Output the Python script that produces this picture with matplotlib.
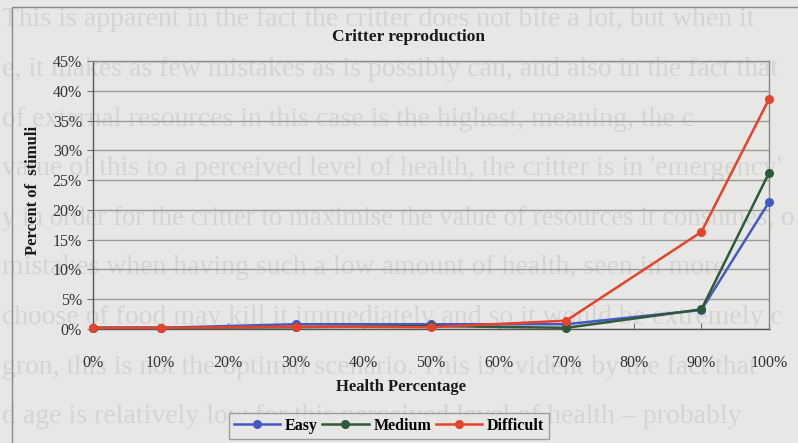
import matplotlib
matplotlib.use("Agg")
import matplotlib.pyplot as plt
from matplotlib.lines import Line2D

health = [0, 10, 30, 50, 70, 90, 100]
easy = [0.2, 0.2, 0.8, 0.8, 0.8, 3.2, 21.3]
medium = [0.2, 0.2, 0.3, 0.5, 0.2, 3.3, 26.2]
difficult = [0.2, 0.2, 0.4, 0.3, 1.4, 16.3, 38.6]
xticks = list(range(0, 101, 10))
yticks = list(range(0, 46, 5))

bg_lines = [
    "This is apparent in the fact the critter does not bite a lot, but when it",
    "e, it makes as few mistakes as is possibly can, and also in the fact that",
    "of external resources in this case is the highest, meaning, the c",
    "value of this to a perceived level of health, the critter is in 'emergency'",
    "y in order for the critter to maximise the value of resources it consumes, o",
    "mistakes when having such a low amount of health, seen in more",
    "choose of food may kill it immediately and so it would be extremely c",
    "gron, this is not the optimal scenario. This is evident by the fact that",
    "d age is relatively low for this perceived level of health \u2013 probably",
]

BG = "#e7e7e5"
W, H = 798, 443
fig = plt.figure(figsize=(7.98, 4.43), dpi=100, facecolor=BG)
serif = ["Liberation Serif", "DejaVu Serif"]

# faint background text of the scanned page
renderer = fig.canvas.get_renderer()
for i, t in enumerate(bg_lines):
    y = 20 + 49.6 * i
    txt = fig.text(2 / W, 1 - y / H, t, fontsize=20, family=serif, color="#d4d4d2",
                   va="center", ha="left", zorder=0)
    w = txt.get_window_extent(renderer).width
    if w > W - 6:
        txt.set_fontsize(20 * (W - 6) / w)

# chart area border
fig.add_artist(plt.Rectangle((12 / W, -0.05), 1.0, 1 - 7 / H + 0.05,
                             transform=fig.transFigure, fill=False,
                             edgecolor="#8a8a8a", linewidth=1.0, zorder=1))

ax = fig.add_axes([93 / W, 1 - 329 / H, (769 - 93) / W, (329 - 61) / H])
ax.set_facecolor("none")
ax.set_zorder(3)

colors = {"Easy": "#4559c4", "Medium": "#2f5a3a", "Difficult": "#e5432b"}
for name, vals in [("Easy", easy), ("Medium", medium), ("Difficult", difficult)]:
    ax.plot(health, vals, color=colors[name], marker="o", markersize=5.5,
            linewidth=1.8, label=name, zorder=3, clip_on=False)

ax.set_xlim(0, 100)
ax.set_ylim(0, 45)
ax.set_xticks(xticks)
ax.set_xticklabels([f"{v}%" for v in xticks])
ax.set_yticks(yticks)
ax.set_yticklabels([f"{v}%" for v in yticks])
ax.yaxis.grid(True, color="#9a9a9a", linewidth=1.0)
ax.set_axisbelow(True)
for s in ax.spines.values():
    s.set_color("#8a8a8a")
    s.set_linewidth(1.0)
ax.spines["left"].set_color("#555555")
ax.spines["bottom"].set_color("#555555")
ax.tick_params(axis="x", direction="in", length=4, color="#777777", pad=19,
               labelsize=11.5, labelcolor="#333333")
ax.tick_params(axis="y", direction="out", length=4, color="#777777", pad=4,
               labelsize=11.5, labelcolor="#333333")
for lab in ax.get_xticklabels() + ax.get_yticklabels():
    lab.set_family(serif)

fig.text(408 / W, 1 - 37 / H, "Critter reproduction", fontsize=12.5,
         fontweight="bold", family=serif, ha="center", va="center", color="#1a1a1a",
         zorder=4)
fig.text(401 / W, 1 - 387 / H, "Health Percentage", fontsize=12,
         fontweight="bold", family=serif, ha="center", va="center", color="#1a1a1a",
         zorder=4)
fig.text(33 / W, 1 - 190 / H, "Percent of  stimuli", fontsize=12,
         fontweight="bold", family=serif, ha="center", va="center", rotation=90,
         color="#1a1a1a", zorder=4)

handles = [Line2D([], [], color=colors[n], marker="o", markersize=5.5, linewidth=1.8)
           for n in ["Easy", "Medium", "Difficult"]]
leg = fig.legend(handles, ["Easy", "Medium", "Difficult"], ncol=3,
                 loc="center", bbox_to_anchor=(389 / W, 1 - 426 / H),
                 prop={"family": serif, "weight": "bold", "size": 11.5},
                 frameon=True, fancybox=False, handlelength=2.9,
                 handletextpad=0.3, columnspacing=0.3, borderpad=0.3)
leg.set_zorder(5)
leg.get_frame().set_edgecolor("#8a8a8a")
leg.get_frame().set_facecolor(BG)
leg.get_frame().set_linewidth(1.0)

fig.savefig("out.png", dpi=100, facecolor=BG)
